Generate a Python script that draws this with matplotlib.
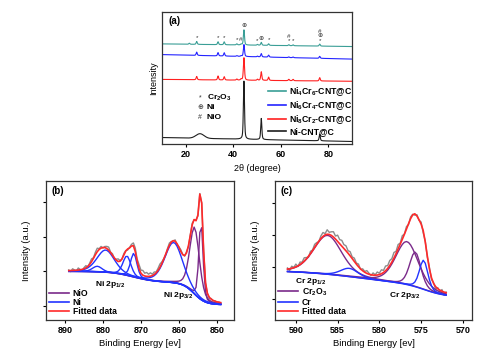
import numpy as np
import matplotlib
matplotlib.use('Agg')
import matplotlib.pyplot as plt
from matplotlib.lines import Line2D

plt.rcParams['font.family'] = ['Liberation Sans', 'DejaVu Sans']
plt.rcParams['font.weight'] = 'bold'
plt.rcParams['mathtext.fontset'] = 'custom'
plt.rcParams['mathtext.rm'] = 'Liberation Sans:bold'
plt.rcParams['mathtext.it'] = 'Liberation Sans:bold'
plt.rcParams['mathtext.bf'] = 'Liberation Sans:bold'
plt.rcParams['mathtext.default'] = 'regular'

# ---------------- (a) XRD data ----------------
xrd_names = ['Ni$_4$Cr$_6$-CNT@C', 'Ni$_6$Cr$_4$-CNT@C', 'Ni$_8$Cr$_2$-CNT@C', 'Ni-CNT@C']
xrd_colors = ['#3a9e96', '#2424ff', '#ff2020', '#1e1e1e']
# baseline level at 10 deg and at 90 deg (percent of axis height)
xrd_base_left = [75.9, 67.8, 49.0, 5.0]
xrd_base_right = [73.9, 64.4, 47.6, 2.0]
# peak positions (2theta) and heights for each pattern
xrd_pos = [21.5, 24.6, 33.6, 36.2, 41.5, 43.3, 44.5, 50.2, 51.8, 54.9, 63.4, 65.2, 76.4]
xrd_h = [
    [0.8, 2.2, 2.2, 2.2, 0.8, 0.6, 11.5, 0.6, 2.2, 1.2, 0.7, 0.7, 1.5],
    [0.0, 2.5, 2.5, 2.5, 0.5, 0.5, 9.0, 0.5, 2.5, 1.5, 0.5, 0.5, 1.5],
    [0.0, 2.5, 3.0, 2.5, 0.8, 0.8, 17.0, 0.8, 6.5, 2.5, 1.0, 1.0, 2.5],
    [0.0, 0.0, 0.0, 0.0, 0.0, 0.0, 44.0, 0.0, 16.0, 0.0, 0.0, 0.0, 5.0],
]
# broad carbon hump of Ni-CNT@C
hump_pos, hump_h, hump_w = 26.0, 3.5, 4.0

cr2o3_marks = [24.6, 33.6, 36.2, 41.5, 50.2, 54.9, 63.4, 65.2, 76.4]
ni_marks = [44.5, 51.8, 76.4]
nio_marks = [43.3, 63.4, 76.4]

# ---------------- (b) Ni 2p XPS ----------------
be_b = np.arange(889.0, 848.9, -0.5)
nio_peaks = [(855.9, 48.0, 3.0), (854.2, 56.0, 1.3)]
ni_peaks = [(881.5, 4.0, 3.0), (879.3, 16.0, 5.5), (873.7, 14.0, 2.5),
            (871.9, 17.0, 2.0), (861.4, 29.0, 5.5)]
noise_b = [0.5, -0.8, 1.2, 0.3, -0.5, 1.5, 0.2, -1.0, 0.8, 1.6, -0.3, 0.9, 2.0, 0.4, 1.8, 2.5, 0.6, 1.2, -0.4, 0.8,
           1.5, 2.2, 0.3, 1.0, -0.6, 0.7, 1.9, 0.5, -0.2, 1.1, 0.4, -0.8, 0.3, 1.2, 2.0, 2.6, 1.5, 3.0, 2.2, 3.4,
           2.0, 2.8, 1.6, 2.4, 1.0, 1.8, 0.6, 1.5, 2.4, 1.2, 0.3, -0.5, 0.8, 1.6, 0.4, -0.3, 1.0, -0.6, 0.5, 1.2,
           0.2, -0.4, 0.9, -0.8, 0.3, 1.1, -0.2, 0.6, -0.7, 0.4, -0.3, 0.8, -0.5, 0.2, -0.9, 0.5, -0.4, 0.3, -0.6, 0.2, -0.3]

# ---------------- (c) Cr 2p XPS ----------------
be_c = np.arange(591.0, 571.9, -0.25)
cr2o3_peaks = [(586.2, 28.0, 4.0), (576.7, 31.0, 3.2), (575.7, 25.0, 1.6)]
cr_peaks = [(583.6, 6.0, 2.5), (574.7, 21.0, 1.2)]
noise_c = [0.8, -1.2, 1.5, 0.2, 2.0, -0.5, 1.8, 0.6, 2.4, 1.0, -0.8, 1.6, 0.4, 2.2, 1.2, -0.3, 1.9, 2.8, 0.9, 3.2,
           1.5, 2.6, 3.8, 2.2, 4.5, 3.0, 4.2, 2.8, 3.6, 1.8, 3.0, 1.2, 2.4, 0.8, 1.9, -0.4, 1.4, 0.6, 2.0, 0.8,
           -0.5, 1.6, 0.3, 2.2, 1.0, 2.8, 1.5, 3.4, 2.0, 3.6, 2.4, 4.0, 1.6, 3.2, 0.8, 2.6, 0.2, 1.8, -0.6, 1.2,
           0.4, -1.0, 0.9, -0.4, 1.4, -1.6, 0.6, -0.8, 1.0, -1.2, 0.5, -2.0, 0.8, -1.5, 1.2, -2.2, 0.5]


def pv(x, c, h, w, eta=0.3):
    d = ((x - c) / w) ** 2
    return h * (eta / (1 + 4 * d) + (1 - eta) * np.exp(-4 * np.log(2) * d))


def sig(x):
    return 1 / (1 + np.exp(-x))


def base_b(e):
    return 11 + 8 * sig((e - 872) / 3) + 16 * sig((e - 856) / 1.5)


def base_c(e):
    return 16 + 8 * sig((e - 574.5) / 1.2) + 12 * sig((e - 582) / 4)


PURPLE = '#7a2a8a'
BLUE = '#2233ff'
RED = '#ff2a2a'
GRAY = '#8c8c8c'

fig = plt.figure(figsize=(5.0, 3.55), dpi=100)

# ---------- panel (a) ----------
ax = fig.add_axes([0.324, 0.594, 0.380, 0.372])
tt = np.arange(10, 90.01, 0.05)
curves = []
for i in range(4):
    y = xrd_base_left[i] + (xrd_base_right[i] - xrd_base_left[i]) * (tt - 10) / 80
    for p, h in zip(xrd_pos, xrd_h[i]):
        y = y + pv(tt, p, h, 0.55, 0.5)
    if i == 3:
        y = y + pv(tt, hump_pos, hump_h, hump_w, 0.0)
    curves.append(y)
for i in [3, 2, 1, 0]:
    ax.plot(tt, curves[i], color=xrd_colors[i], lw=0.8)

teal = curves[0]
def top_at(x):
    return teal[np.argmin(abs(tt - x))]

stack = {}
for sym, lst in [('*', cr2o3_marks), ('\u2295', ni_marks), ('#', nio_marks)]:
    for x in lst:
        k = stack.get(x, 0)
        ax.text(x, top_at(x) + 3.0 + 3.2 * k, sym, fontsize=4.5, ha='center', va='center',
                color='#333333', fontweight='normal')
        stack[x] = k + 1

ax.set_xlim(10, 90)
ax.set_ylim(0, 100)
ax.set_yticks([])
ax.set_xticks([20, 40, 60, 80])
ax.tick_params(axis='x', labelsize=6.5, length=2.5, width=0.8, pad=2)
ax.set_xlabel('2\u03b8 (degree)', fontsize=6.5, labelpad=3)
ax.set_ylabel('Intensity', fontsize=6.5, fontweight='normal', labelpad=3)
ax.text(0.035, 0.93, '(a)', transform=ax.transAxes, fontsize=7, va='center')

handles = [Line2D([], [], color=c, lw=1.2) for c in xrd_colors]
ax.legend(handles, xrd_names, loc='upper left', bbox_to_anchor=(0.54, 0.475), frameon=False,
          fontsize=6.3, handlelength=2.1, handletextpad=0.3, labelspacing=0.12, borderaxespad=0)

for k, (sym, lab) in enumerate([('*', 'Cr$_2$O$_3$'), ('\u2295', 'Ni'), ('#', 'NiO')]):
    yy = 0.35 - 0.075 * k
    ax.text(0.2, yy, sym, transform=ax.transAxes, fontsize=5, ha='center', va='center',
            color='#333333', fontweight='normal')
    ax.text(0.235, yy, lab, transform=ax.transAxes, fontsize=6, va='center')

# ---------- panel (b) ----------
bx = fig.add_axes([0.092, 0.0986, 0.376, 0.3914])
bb = base_b(be_b)
fit_b = bb.copy()
for c, h, w in nio_peaks + ni_peaks:
    fit_b = fit_b + pv(be_b, c, h, w)
bx.plot(be_b, fit_b + np.array(noise_b), color=GRAY, lw=1.0)
for c, h, w in nio_peaks:
    bx.plot(be_b, bb + pv(be_b, c, h, w), color=PURPLE, lw=1.0)
for c, h, w in ni_peaks:
    bx.plot(be_b, bb + pv(be_b, c, h, w), color=BLUE, lw=1.0)
bx.plot(be_b, fit_b, color=RED, lw=1.2)
bx.set_xlim(895, 845.5)
bx.set_ylim(0, 100)
bx.set_xticks([890, 880, 870, 860, 850])
bx.set_yticks([10, 35, 60, 85])
bx.set_yticklabels([])
bx.tick_params(labelsize=6.5, length=2.5, width=0.8, pad=2)
bx.set_xlabel('Binding Energy [ev]', fontsize=6.8, labelpad=3)
bx.set_ylabel('Intensity (a.u.)', fontsize=6.8, labelpad=6)
bx.text(0.03, 0.93, '(b)', transform=bx.transAxes, fontsize=7, va='center')
bx.text(878.2, 25.5, 'Ni 2p$_{1/2}$', fontsize=6, ha='center', va='center')
bx.text(860.3, 17.3, 'Ni 2p$_{3/2}$', fontsize=6, ha='center', va='center')
hb = [Line2D([], [], color=PURPLE, lw=1.2), Line2D([], [], color=BLUE, lw=1.2),
      Line2D([], [], color=RED, lw=1.2)]
bx.legend(hb, ['NiO', 'Ni', 'Fitted data'], loc='lower left', bbox_to_anchor=(0.0, 0.005),
          frameon=False, fontsize=6.2, handlelength=2.3, handletextpad=0.4, labelspacing=0.0,
          borderaxespad=0)

# ---------- panel (c) ----------
cx = fig.add_axes([0.55, 0.0986, 0.394, 0.3914])
bc = base_c(be_c)
fit_c = bc.copy()
for c, h, w in cr2o3_peaks + cr_peaks:
    fit_c = fit_c + pv(be_c, c, h, w)
cx.plot(be_c, fit_c + np.array(noise_c), color=GRAY, lw=1.0)
for c, h, w in cr2o3_peaks:
    cx.plot(be_c, bc + pv(be_c, c, h, w), color=PURPLE, lw=1.0)
for c, h, w in cr_peaks:
    cx.plot(be_c, bc + pv(be_c, c, h, w), color=BLUE, lw=1.0)
cx.plot(be_c, fit_c, color=RED, lw=1.2)
cx.set_xlim(592.5, 568.9)
cx.set_ylim(0, 100)
cx.set_xticks([590, 585, 580, 575, 570])
cx.set_yticks([15, 38, 61, 84])
cx.set_yticklabels([])
cx.tick_params(labelsize=6.5, length=2.5, width=0.8, pad=2)
cx.set_xlabel('Binding Energy [ev]', fontsize=6.8, labelpad=3)
cx.set_ylabel('Intensity (a.u.)', fontsize=6.8, labelpad=6)
cx.text(0.03, 0.93, '(c)', transform=cx.transAxes, fontsize=7, va='center')
cx.text(588.2, 27.5, 'Cr 2p$_{1/2}$', fontsize=6, ha='center', va='center')
cx.text(577.0, 17.3, 'Cr 2p$_{3/2}$', fontsize=6, ha='center', va='center')
hc = [Line2D([], [], color=PURPLE, lw=1.2), Line2D([], [], color=BLUE, lw=1.2),
      Line2D([], [], color=RED, lw=1.2)]
cx.legend(hc, ['Cr$_2$O$_3$', 'Cr', 'Fitted data'], loc='lower left', bbox_to_anchor=(0.0, 0.005),
          frameon=False, fontsize=6.2, handlelength=2.3, handletextpad=0.4, labelspacing=0.0,
          borderaxespad=0)

for a in (ax, bx, cx):
    for s in a.spines.values():
        s.set_linewidth(0.9)
        s.set_color('#333333')

fig.savefig('out.png', dpi=100)
